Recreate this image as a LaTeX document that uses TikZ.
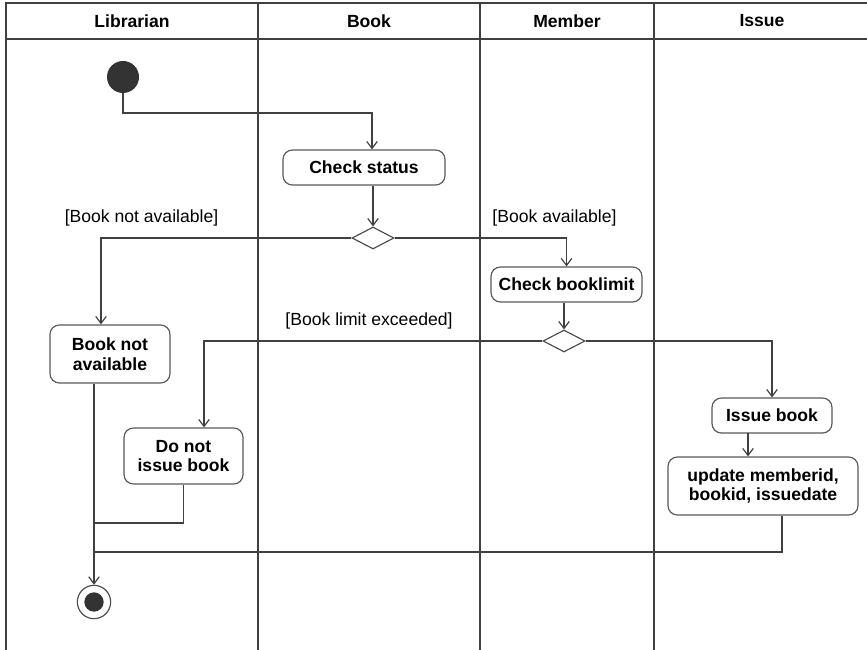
\documentclass[tikz,border=0pt]{standalone}
\usepackage{fontspec}
\setmainfont{Liberation Sans}
\usetikzlibrary{arrows.meta,shapes.geometric}

\begin{document}
\begin{tikzpicture}[x=0.03cm, y=-0.03cm,
    lane/.style={line width=2.2pt, draw=black!75},
    action/.style={draw=black!65, line width=1pt, rounded corners=8pt, fill=white, align=center, inner sep=0pt,
        font=\bfseries\fontsize{15}{17}\selectfont},
    decision/.style={diamond, draw=black!70, line width=1pt, fill=white, inner sep=0pt,
        minimum width=1.26cm, minimum height=0.66cm},
    flow/.style={draw=black!75, line width=1pt, -{Straight Barb[length=6pt,width=9pt]}},
    merge/.style={draw=black!75, line width=1pt},
    guard/.style={font=\fontsize{15}{17}\selectfont},
    header/.style={font=\bfseries\fontsize{15}{17}\selectfont}]
    \useasboundingbox (0,0) rectangle (867,650);

    % Swimlanes
    \draw[lane] (867,3) -- (6,3) -- (6,650);
    \draw[lane] (6,39) -- (867,39);
    \draw[lane] (258,3) -- (258,650);
    \draw[lane] (480,3) -- (480,650);
    \draw[lane] (654,3) -- (654,650);
    \node[header] (hlib) at (132,21) {Librarian};
    \node[header] (hbook) at (369,21) {Book};
    \node[header] (hmem) at (567,21) {Member};
    \node[header] (hiss) at (762,21) {Issue};

    % Start and end
    \node[circle, fill=black!80, minimum size=0.96cm, inner sep=0pt] (start) at (123,77) {};
    \node[circle, draw=black!70, line width=1pt, fill=white, minimum size=1.0cm, inner sep=0pt] (final) at (94,602) {};
    \node[circle, fill=black!80, minimum size=0.58cm, inner sep=0pt] (finaldot) at (final) {};

    % Actions
    \node[action, minimum width=4.86cm, minimum height=1.05cm] (checkstatus) at (364,167.5) {Check status};
    \node[action, minimum width=4.53cm, minimum height=1.05cm] (checklimit) at (566.5,284.5) {Check booklimit};
    \node[action, minimum width=3.6cm, minimum height=1.74cm] (notavail) at (110,354) {Book not\\available};
    \node[action, minimum width=3.57cm, minimum height=1.68cm] (donot) at (183.5,456) {Do not\\issue book};
    \node[action, minimum width=3.6cm, minimum height=1.05cm] (issue) at (772,415.5) {Issue book};
    \node[action, minimum width=5.7cm, minimum height=1.74cm] (update) at (763,486) {update memberid,\\bookid, issuedate};

    % Decisions
    \node[decision] (dec1) at (373,238) {};
    \node[decision] (dec2) at (564,341) {};

    % Guards
    \node[guard] (gnot) at (141.5,218) {[Book not available]};
    \node[guard] (gavail) at (554.5,218) {[Book available]};
    \node[guard] (glimit) at (369,321) {[Book limit exceeded]};

    % Bends
    \coordinate (s1) at (372,113);
    \coordinate (b1) at (101,238);
    \coordinate (c1) at (204,341);
    \coordinate (u1) at (748,433);
    \coordinate (u2) at (782,552);
    \coordinate (j1) at (94,523);
    \coordinate (j2) at (94,552);

    % Flows
    \draw[flow] (start) |- (s1) -- (s1 |- checkstatus.north);
    \draw[flow] (checkstatus.south -| dec1) -- (dec1.north);
    \draw[flow] (dec1.west) -- (b1) -- (b1 |- notavail.north);
    \draw[flow] (dec1.east) -| (checklimit.north);
    \draw[flow] (checklimit.south -| dec2) -- (dec2.north);
    \draw[flow] (dec2.west) -- (c1) -- (c1 |- donot.north);
    \draw[flow] (dec2.east) -| (issue.north);
    \draw[flow] (u1) -- (u1 |- update.north);
    \draw[flow] (notavail.south -| final) -- (final.north);
    \draw[merge] (donot.south) |- (j1);
    \draw[merge] (update.south -| u2) -- (u2) -- (j2);
\end{tikzpicture}
\end{document}
